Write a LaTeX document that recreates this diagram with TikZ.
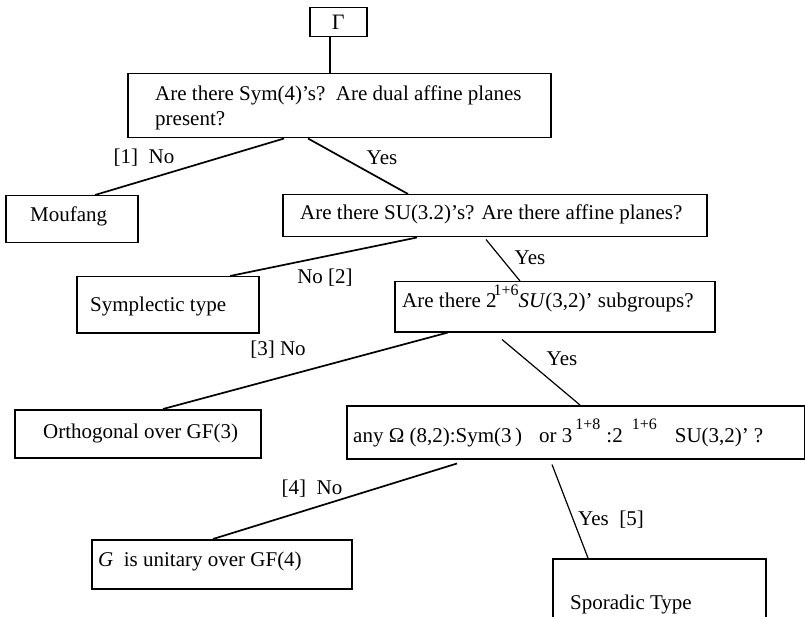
\documentclass[tikz,border=0pt]{standalone}
\usepackage{fontspec}
\setmainfont{Liberation Serif}
\newcommand{\supx}[1]{\raisebox{12.5pt}{\fontsize{16}{16}\selectfont #1}}
\begin{document}
\begin{tikzpicture}[x=1pt,y=-1pt,
  box/.style={draw, line width=1.5pt, inner sep=0pt, anchor=north west, font=\fontsize{22}{22}\selectfont},
  txt/.style={inner sep=0pt, anchor=base west, align=left, font=\fontsize{21}{25}\selectfont},
  lab/.style={inner sep=0pt, font=\fontsize{21}{22}\selectfont},
  conn/.style={line width=1.7pt},
  thin/.style={line width=1.2pt}]
\useasboundingbox (0,0) rectangle (805,617);
% boxes
\node[box, minimum width=57pt, minimum height=29pt] (gam) at (309,7) {Γ};
\node[box, minimum width=423pt, minimum height=64pt] (q1) at (127,73) {};
\node[box, minimum width=132pt, minimum height=47pt] (mou) at (5,195) {};
\node[box, minimum width=424pt, minimum height=42pt] (q2) at (282,194) {};
\node[box, minimum width=182pt, minimum height=56pt] (sym) at (76,276) {};
\node[box, minimum width=320pt, minimum height=50pt] (q3) at (394,281) {};
\node[box, minimum width=246pt, minimum height=48pt] (orth) at (14,409) {};
\node[box, minimum width=458pt, minimum height=53pt] (q4) at (346,405) {};
\node[box, minimum width=260pt, minimum height=49pt] (uni) at (91,539) {};
\node[box, minimum width=213pt, minimum height=70pt] (spo) at (552,558) {};
% texts
\node[txt, anchor=west] (q1t) at (155,108) {Are there Sym(4)'s?\ \ Are dual affine planes\\present?};
\node[txt] (mout) at (30,222) {Moufang};
\node[txt] (q2t) at (300,220) {Are there SU(3.2)'s? Are there affine planes?};
\node[txt] (symt) at (90,312) {Symplectic type};
\node[txt] (q3t) at (402,308) {Are there 2\kern-3pt\supx{1+6}\textit{SU}(3,2)' subgroups?};
\node[txt] (ortht) at (43,438) {Orthogonal over GF(3)};
\node[txt] (q4t) at (353,442) {any Ω (8,2):Sym(3\,)\hspace{17pt}or 3\hspace{3pt}\supx{1+8}\hspace{6pt}:2\hspace{9pt}\supx{1+6}\hspace{18pt}SU(3,2)'\hspace{5pt}?};
\node[txt] (unit) at (98,566) {\textit{G}\ \ is unitary over GF(4)};
\node[txt] (spot) at (570,609) {Sporadic Type};
% connectors
\draw[conn] ([xshift=21pt]gam.south west) -- ([xshift=203pt]q1.north west);
\draw[conn] ([xshift=157pt]q1.south west) -- ([xshift=90pt]mou.north west);
\draw[conn] ([xshift=181pt]q1.south west) -- ([xshift=126pt]q2.north west);
\draw[conn] ([xshift=135pt]q2.south west) -- ([xshift=154pt]sym.north west);
\draw[thin] ([xshift=204pt,yshift=-2pt]q2.south west) -- ([xshift=126pt]q3.north west);
\draw[conn] ([xshift=54pt]q3.south west) -- ([xshift=149pt]orth.north west);
\draw[thin] ([xshift=108pt,yshift=-7pt]q3.south west) -- ([xshift=234pt]q4.north west);
\draw[conn] ([xshift=111pt,yshift=-4pt]q4.south west) -- ([xshift=122pt]uni.north west);
\draw[thin] ([xshift=206pt,yshift=-5pt]q4.south west) -- ([xshift=36pt]spo.north west);
% labels
\node[lab] (l1) at (144,158) {[1]\ \ No};
\node[lab] (l2) at (382,158) {Yes};
\node[lab] (l3) at (325,278) {No [2]};
\node[lab] (l4) at (530,258) {Yes};
\node[lab] (l5) at (278,350) {[3] No};
\node[lab] (l6) at (562,359) {Yes};
\node[lab] (l7) at (312,489) {[4]\ \ No};
\node[lab] (l8) at (611,520) {Yes\ \ [5]};
\end{tikzpicture}
\end{document}
